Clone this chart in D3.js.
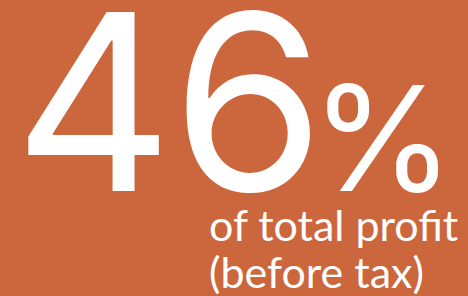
<html>
<head>
<style>
  body { margin: 0; }
  svg { display: block; }
</style>
</head>
<body>
<script src="https://d3js.org/d3.v7.min.js"></script>
<svg></svg>
<script>
  // the figure
  var value = [46];
  var unit = ["%"];
  var caption = ["of total profit", "(before tax)"];

  let width = 468;
  let height = 296;

  let svg = d3.select("svg")
    .attr("width", width)
    .attr("height", height);

  svg.append("rect")
    .attr("width", width)
    .attr("height", height)
    .style("fill", "#cc663c");

  svg.selectAll("text.num")
    .data(value)
    .enter().append("text")
    .attr("class", "num")
    .attr("x", 14)
    .attr("y", 191)
    .style("font-family", "Inter, 'Liberation Sans', sans-serif")
    .style("font-weight", 400)
    .style("font-size", "246px")
    .style("letter-spacing", "-1px")
    .style("fill", "white")
    .text(d => d);

  svg.selectAll("text.unit")
    .data(unit)
    .enter().append("text")
    .attr("class", "unit")
    .attr("x", 311)
    .attr("y", 191)
    .style("font-family", "Inter, 'Liberation Sans', sans-serif")
    .style("font-weight", 400)
    .style("font-size", "146px")
    .style("fill", "white")
    .text(d => d);

  svg.selectAll("text.cap")
    .data(caption)
    .enter().append("text")
    .attr("class", "cap")
    .attr("x", 209)
    .attr("y", (d, i) => 241 + i * 47)
    .style("font-family", "Lato, 'Open Sans', sans-serif")
    .style("font-size", "43px")
    .style("fill", "white")
    .text(d => d);
</script>
</body>
</html>
